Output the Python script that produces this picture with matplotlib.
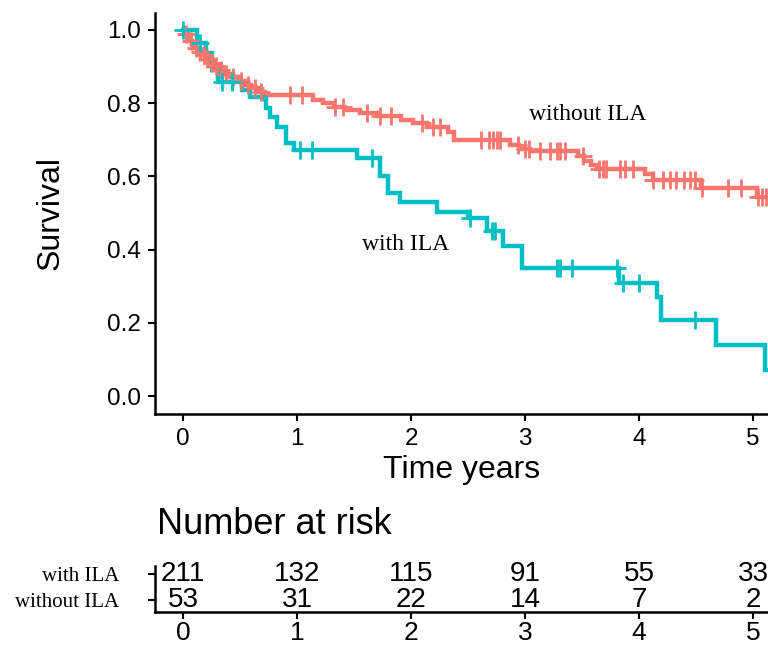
import numpy as np
import matplotlib
matplotlib.use("Agg")
import matplotlib.pyplot as plt
from matplotlib import font_manager as fm

# ---------------- data ----------------
without_times = [0.0, 0.02, 0.04, 0.06, 0.08, 0.10, 0.13, 0.16, 0.19, 0.23, 0.27, 0.31, 0.36,
                 0.42, 0.48, 0.55, 0.60, 0.66, 0.72, 1.14, 1.23, 1.32, 1.42, 1.55, 1.70, 1.91,
                 2.02, 2.14, 2.32, 2.38, 2.87, 2.95, 3.04, 3.46, 3.52, 3.58, 3.63, 4.05, 4.12,
                 4.54, 5.03]
without_surv = [1.0, 0.99, 0.98, 0.97, 0.96, 0.95, 0.94, 0.93, 0.92, 0.91, 0.90, 0.89, 0.88,
                0.87, 0.86, 0.85, 0.84, 0.83, 0.822, 0.809, 0.80, 0.79, 0.782, 0.773, 0.766, 0.754,
                0.746, 0.735, 0.72, 0.70, 0.685, 0.675, 0.668, 0.655, 0.642, 0.63, 0.62, 0.605, 0.59,
                0.568, 0.544]
without_censor = [0.03, 0.07, 0.11, 0.15, 0.18, 0.21, 0.25, 0.29, 0.33, 0.38, 0.44, 0.51, 0.57,
                  0.63, 0.68, 0.94, 1.04, 1.33, 1.40, 1.61, 1.73, 1.82, 2.10, 2.19, 2.25,
                  2.61, 2.68, 2.72, 2.75, 2.78, 2.94, 3.00, 3.03, 3.13, 3.22, 3.28, 3.31, 3.35,
                  3.51, 3.65, 3.68, 3.71, 3.83, 3.88, 3.95, 4.12, 4.21, 4.27, 4.32, 4.39, 4.45,
                  4.49, 4.55, 4.78, 4.89, 5.04, 5.08, 5.11]

with_times = [0.0, 0.12, 0.20, 0.25, 0.31, 0.52, 0.59, 0.70, 0.73, 0.76, 0.82, 0.90, 0.97,
              1.53, 1.73, 1.80, 1.90, 2.23, 2.50, 2.67, 2.81, 2.97, 3.82, 4.16, 4.19, 4.67, 5.10]
with_surv = [1.0, 0.965, 0.937, 0.89, 0.858, 0.836, 0.817, 0.81, 0.787, 0.762, 0.735, 0.69, 0.672,
             0.65, 0.60, 0.555, 0.53, 0.503, 0.486, 0.45, 0.41, 0.35, 0.31, 0.27, 0.208, 0.14, 0.07]
with_censor = [0.0, 0.15, 0.34, 0.43, 1.03, 1.13, 1.66, 2.52, 2.71, 2.74, 3.28, 3.31, 3.41,
               3.81, 3.86, 4.00, 4.49]

risk_groups = ["with ILA", "without ILA"]
risk_times = [0, 1, 2, 3, 4, 5]
risk_with = [211, 132, 115, 91, 55, 33]
risk_without = [53, 31, 22, 14, 7, 2]

# ---------------- style ----------------
SALMON = "#F8766D"
TEAL = "#00BFC4"
names = {f.name for f in fm.fontManager.ttflist}
NARROW = "Liberation Sans Narrow" if "Liberation Sans Narrow" in names else "Liberation Sans"
SANS = "Liberation Sans"
SERIF = "Liberation Serif"

W, H = 768, 646
fig = plt.figure(figsize=(W / 100, H / 100), dpi=100)

X0 = -0.2456
X1 = 5.13


def fx(px):
    return px / W


def fy(py):
    return 1 - py / H


# main axes
ax = fig.add_axes([fx(155), fy(414), fx(768) - fx(155), fy(13) - fy(414)])
ax.set_xlim(X0, X1)
ax.set_ylim(-0.049, 1.046)


def draw_curve(times, surv, censor, color):
    t = np.array(times + [X1 + 0.2])
    s = np.array(surv + [surv[-1]])
    ax.step(t, s, where="post", color=color, lw=3.2, solid_joinstyle="miter", zorder=3)
    c = np.array(censor)
    idx = np.searchsorted(np.array(times), c, side="right") - 1
    cy = np.array(surv)[idx]
    ax.plot(c, cy, ls="none", marker="+", ms=13, mew=2.0, color=color, zorder=4)


draw_curve(without_times, without_surv, without_censor, SALMON)
draw_curve(with_times, with_surv, with_censor, TEAL)

for side in ["top", "right"]:
    ax.spines[side].set_visible(False)
for side in ["left", "bottom"]:
    ax.spines[side].set_linewidth(1.8)
ax.set_xticks(risk_times)
ax.set_yticks([0.0, 0.2, 0.4, 0.6, 0.8, 1.0])
ax.set_yticklabels(["0.0", "0.2", "0.4", "0.6", "0.8", "1.0"])
ax.tick_params(axis="both", length=5, width=1.5, pad=5, labelsize=17.5, colors="black")
for lab in ax.get_xticklabels() + ax.get_yticklabels():
    lab.set_fontfamily(SANS)
ax.set_xlabel("Time years", fontsize=23, family=SANS, labelpad=4)
ax.set_ylabel("Survival", fontsize=23, family=SANS, labelpad=30)

ax.text(3.55, 0.768, "without ILA", family=SERIF, fontsize=17, ha="center", va="center")
ax.text(1.95, 0.413, "with ILA", family=SERIF, fontsize=17, ha="center", va="center")

# risk table
fig.text(fx(157), fy(525), "Number at risk", family=SANS, fontsize=26, ha="left", va="center")
rax = fig.add_axes([fx(155), fy(612), fx(768) - fx(155), fy(566) - fy(612)])
rax.set_xlim(X0, X1)
rax.set_ylim(-0.46, 1.31)
for side in ["top", "right"]:
    rax.spines[side].set_visible(False)
for side in ["left", "bottom"]:
    rax.spines[side].set_linewidth(1.8)
rax.set_yticks([1, 0])
rax.set_yticklabels(risk_groups)
rax.set_xticks(risk_times)
rax.tick_params(axis="both", length=5, width=1.5, colors="black")
rax.tick_params(axis="y", labelsize=15, pad=21)
rax.tick_params(axis="x", labelsize=19, pad=1.5)
for lab in rax.get_yticklabels():
    lab.set_fontfamily(SERIF)
for lab in rax.get_xticklabels():
    lab.set_fontfamily(NARROW)
for t, v in zip(risk_times, risk_with):
    rax.text(t, 1, str(v), family=NARROW, fontsize=20, ha="center", va="center", clip_on=False)
for t, v in zip(risk_times, risk_without):
    rax.text(t, 0, str(v), family=NARROW, fontsize=20, ha="center", va="center", clip_on=False)

fig.savefig("out.png", dpi=100)
